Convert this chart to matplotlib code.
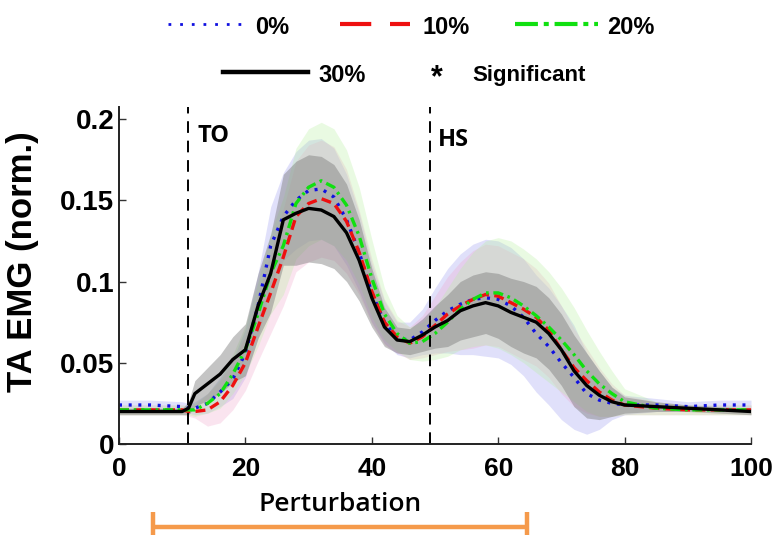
import numpy as np
import matplotlib
matplotlib.use('Agg')
import matplotlib.pyplot as plt
from matplotlib.lines import Line2D

plt.rcParams['font.family'] = ['Liberation Sans', 'DejaVu Sans']

# gait cycle (%) and mean TA EMG per perturbation level
x = [0, 5, 10, 11, 12, 14, 16, 18, 20, 22, 24, 26, 28, 30, 32, 34, 36, 38, 40,
     42, 44, 46, 48, 50, 52, 54, 56, 58, 60, 62, 64, 66, 68, 70, 72, 74, 76,
     78, 80, 85, 90, 95, 100]

emg_0 = [0.024, 0.024, 0.023, 0.022, 0.022,
         0.025, 0.032, 0.040, 0.056, 0.085, 0.122, 0.140, 0.150, 0.156, 0.157,
         0.152, 0.138, 0.118, 0.093, 0.075, 0.065, 0.064, 0.069, 0.076, 0.082,
         0.086, 0.089, 0.090, 0.089, 0.085, 0.078, 0.068, 0.060, 0.050, 0.041,
         0.031, 0.027, 0.025, 0.024,
         0.024, 0.023, 0.024, 0.024]
emg_10 = [0.021, 0.021, 0.021, 0.020, 0.020,
          0.021, 0.026, 0.036, 0.050, 0.072, 0.093, 0.115, 0.140, 0.148, 0.151,
          0.148, 0.137, 0.118, 0.094, 0.075, 0.066, 0.062, 0.066, 0.073, 0.080,
          0.085, 0.089, 0.092, 0.091, 0.087, 0.083, 0.078, 0.070, 0.058, 0.047,
          0.039, 0.032, 0.027, 0.024,
          0.022, 0.021, 0.021, 0.021]
emg_20 = [0.021, 0.021, 0.021, 0.021, 0.021,
          0.025, 0.031, 0.043, 0.058, 0.080, 0.105, 0.122, 0.148, 0.158, 0.162,
          0.158, 0.147, 0.128, 0.102, 0.080, 0.068, 0.062, 0.063, 0.068, 0.075,
          0.083, 0.089, 0.093, 0.093, 0.090, 0.085, 0.079, 0.072, 0.064, 0.055,
          0.045, 0.037, 0.031, 0.026,
          0.022, 0.021, 0.021, 0.021]
emg_30 = [0.020, 0.020, 0.020, 0.022, 0.031,
          0.037, 0.043, 0.052, 0.058, 0.085, 0.105, 0.138, 0.142, 0.145, 0.144,
          0.140, 0.130, 0.113, 0.090, 0.072, 0.064, 0.063, 0.067, 0.072, 0.076,
          0.082, 0.085, 0.087, 0.085, 0.081, 0.078, 0.075, 0.068, 0.058, 0.045,
          0.036, 0.030, 0.026, 0.024,
          0.023, 0.022, 0.021, 0.020]

# standard deviations
sd_0 = [0.003, 0.003, 0.003, 0.003, 0.004,
        0.006, 0.009, 0.012, 0.015, 0.020, 0.024, 0.027, 0.030, 0.031, 0.031,
        0.030, 0.028, 0.024, 0.018, 0.013, 0.010, 0.011, 0.014, 0.020, 0.026,
        0.031, 0.034, 0.036, 0.036, 0.036, 0.036, 0.036, 0.036, 0.035, 0.032,
        0.025, 0.018, 0.010, 0.006,
        0.004, 0.003, 0.003, 0.003]
sd_10 = [0.003, 0.003, 0.003, 0.003, 0.004,
         0.010, 0.013, 0.015, 0.017, 0.021, 0.025, 0.030, 0.034, 0.036, 0.036,
         0.035, 0.032, 0.026, 0.020, 0.014, 0.010, 0.010, 0.013, 0.018, 0.023,
         0.027, 0.030, 0.031, 0.031, 0.031, 0.031, 0.030, 0.029, 0.027, 0.024,
         0.020, 0.015, 0.010, 0.006,
         0.004, 0.003, 0.003, 0.003]
sd_20 = [0.003, 0.003, 0.003, 0.003, 0.004,
         0.006, 0.009, 0.012, 0.015, 0.020, 0.025, 0.030, 0.034, 0.036, 0.036,
         0.036, 0.034, 0.030, 0.024, 0.016, 0.011, 0.010, 0.012, 0.016, 0.021,
         0.025, 0.029, 0.032, 0.034, 0.035, 0.035, 0.035, 0.034, 0.032, 0.029,
         0.025, 0.020, 0.014, 0.008,
         0.004, 0.003, 0.003, 0.003]
sd_30 = [0.002, 0.002, 0.002, 0.004, 0.008,
         0.010, 0.012, 0.014, 0.016, 0.020, 0.024, 0.028, 0.032, 0.033, 0.033,
         0.032, 0.030, 0.025, 0.018, 0.012, 0.008, 0.008, 0.010, 0.013, 0.016,
         0.018, 0.019, 0.019, 0.020, 0.021, 0.022, 0.022, 0.022, 0.022, 0.022,
         0.020, 0.015, 0.009, 0.005,
         0.003, 0.002, 0.002, 0.002]

labels = ['0%', '10%', '20%', '30%']
toe_off = 10.9
heel_strike = 49.2
pert_start, pert_end = 5.4, 64.6

W, H = 777, 535
fig = plt.figure(figsize=(W / 100, H / 100), dpi=100)
ax = fig.add_axes([119 / W, 1 - 444 / H, 632 / W, 337 / H])

xs = np.array(x)
bands = [(emg_0, sd_0, '#9a9af0', 0.30),
         (emg_10, sd_10, '#f0a0c8', 0.28),
         (emg_20, sd_20, '#b8f0a0', 0.30),
         (emg_30, sd_30, '#7c7c7c', 0.45)]
for m, s, c, a in bands:
    m = np.array(m); s = np.array(s)
    ax.fill_between(xs, m - s, m + s, color=c, alpha=a, lw=0)

lw = 2.4
ax.plot(xs, emg_0, color='#1010e0', lw=lw, ls=(0, (0.9, 2.0)))
ax.plot(xs, emg_10, color='#ee1010', lw=lw, ls=(0, (3.0, 1.6)))
ax.plot(xs, emg_20, color='#10e010', lw=lw, ls=(0, (3.0, 1.4, 0.8, 1.4)))
ax.plot(xs, emg_30, color='black', lw=lw)

for xv in (toe_off, heel_strike):
    ax.axvline(xv, color='black', lw=1.4, ls=(0, (6, 4)))

tfont = dict(family=['Open Sans', 'DejaVu Sans'], fontweight='bold', fontsize=17)
ax.text(12.5, 0.1895, 'TO', va='center', ha='left', **tfont)
ax.text(50.5, 0.187, 'HS', va='center', ha='left', **tfont)

ax.set_xlim(0, 100)
ax.set_ylim(0, 0.2074)
ax.set_xticks([0, 20, 40, 60, 80, 100])
ax.set_yticks([0, 0.05, 0.1, 0.15, 0.2])
ax.set_yticklabels(['0', '0.05', '0.1', '0.15', '0.2'])
ax.tick_params(direction='in', length=5, width=1, colors='#333333',
               labelcolor='black')
ax.tick_params(axis='x', pad=9, labelsize=19)
ax.tick_params(axis='y', pad=3.5, labelsize=20)
for lab in ax.get_xticklabels() + ax.get_yticklabels():
    lab.set_fontweight('bold')
for side in ('top', 'right'):
    ax.spines[side].set_visible(False)
for side in ('left', 'bottom'):
    ax.spines[side].set_linewidth(1.4)
    ax.spines[side].set_color('#222222')

ax.set_ylabel('TA EMG (norm.)', fontsize=25, fontweight='bold', va='center')
ax.yaxis.set_label_coords(-0.152, 0.54)

# perturbation window below the axis
trans = ax.get_xaxis_transform()
orange = '#f59a4b'
ax.plot([pert_start, pert_end], [-0.246, -0.246], color=orange, lw=3.2,
        transform=trans, clip_on=False, solid_capstyle='butt')
for xv in (pert_start, pert_end):
    ax.plot([xv, xv], [-0.202, -0.29], color=orange, lw=3.2,
            transform=trans, clip_on=False, solid_capstyle='butt')
ax.text((pert_start + pert_end) / 2, -0.18, 'Perturbation', transform=trans,
        ha='center', va='center', fontsize=19,
        family=['Open Sans', 'DejaVu Sans'], fontweight='semibold')


def fpos(px, py):
    return px / W, 1 - py / H


def key_line(x0, x1, y, **kw):
    (a, b), (c, d) = fpos(x0, y), fpos(x1, y)
    fig.add_artist(Line2D([a, c], [b, d], transform=fig.transFigure, **kw))


def key_text(px, py, s, size=17):
    fig.text(*fpos(px, py), s, ha='left', va='center', fontsize=size,
             fontweight='bold')


key_line(168, 247, 24, color='#1010e0', lw=2.0, ls=(0, (1.0, 3.2)))
key_text(255, 28, labels[0])
key_line(340, 410, 24, color='#ee1010', lw=3.0, ls=(0, (7.5, 4.5)))
key_text(422, 28, labels[1])
key_line(515, 598, 24, color='#10e010', lw=3.0, ls=(0, (5.5, 1.4, 1.2, 1.4)))
key_text(607, 28, labels[2])
key_line(223, 308, 72, color='black', lw=3.2)
key_text(318, 76, labels[3])
fig.text(*fpos(437, 78), '*', ha='center', va='center', fontsize=22,
         fontweight='bold')
key_text(472, 75, 'Significant', size=16)

fig.savefig('out.png', dpi=100)
